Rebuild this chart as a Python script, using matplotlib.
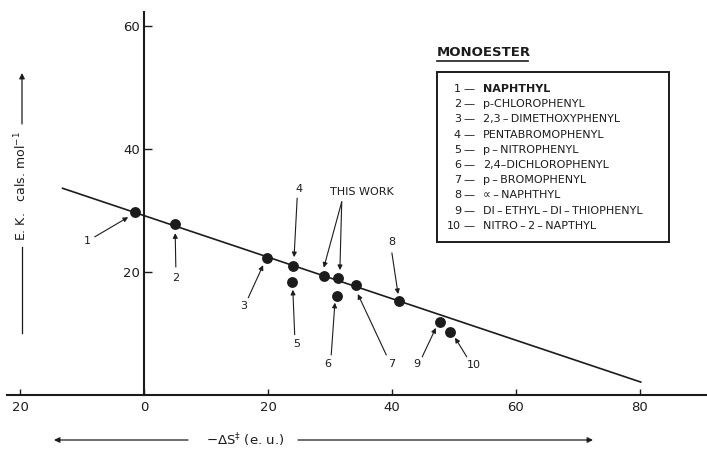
import matplotlib
matplotlib.use("Agg")
import matplotlib.pyplot as plt
from matplotlib.patches import Rectangle

# ---- data ----
labels = ["1", "2", "3", "4", "5", "TW", "TW", "6", "7", "8", "9", "10"]
neg_dS = [-1.5, 5.0, 19.9, 24.1, 23.9, 29.0, 31.3, 31.1, 34.2, 41.1, 47.8, 49.4]
ek = [29.8, 27.8, 22.2, 20.9, 18.3, 19.3, 19.0, 16.1, 17.8, 15.3, 11.9, 10.2]
fit_x = [-13.2, 80.2]
fit_y = [33.6, 2.1]
x_ticks = [-20, 0, 20, 40, 60, 80]
x_tick_labels = ["20", "0", "20", "40", "60", "80"]
y_ticks = [20, 40, 60]
y_tick_labels = ["20", "40", "60"]
legend_title = "MONOESTER"
legend_names = ["NAPHTHYL", "p-CHLOROPHENYL", "2,3\u2009\u2013\u2009DIMETHOXYPHENYL",
                "PENTABROMOPHENYL", "p\u2009\u2013\u2009NITROPHENYL", "2,4\u2013DICHLOROPHENYL",
                "p\u2009\u2013\u2009BROMOPHENYL", "\u221d\u2009\u2013\u2009NAPHTHYL",
                "DI\u2009\u2013\u2009ETHYL\u2009\u2013\u2009DI\u2009\u2013\u2009THIOPHENYL",
                "NITRO\u2009\u2013\u20092\u2009\u2013\u2009NAPTHYL"]

INK = "#1c1c1c"
plt.rcParams['font.family'] = ['DejaVu Sans']

W, H = 707, 449
fig = plt.figure(figsize=(W / 100, H / 100), dpi=100)
ax = fig.add_axes([0, 0, 1, 1])
ax.set_xlim(-23.3, 90.9)
ax.set_ylim(-8.78, 64.2)
ax.patch.set_alpha(0)

for s in ["top", "right"]:
    ax.spines[s].set_visible(False)
ax.spines["left"].set_position(("data", 0))
ax.spines["bottom"].set_position(("data", 0))
ax.spines["left"].set_bounds(0, 62.3)
ax.spines["bottom"].set_bounds(-22.2, 90.9)
for s in ["left", "bottom"]:
    ax.spines[s].set_linewidth(1.5)
    ax.spines[s].set_color(INK)

ax.set_xticks(x_ticks)
ax.set_xticklabels(x_tick_labels)
ax.set_yticks(y_ticks)
ax.set_yticklabels(y_tick_labels)
ax.tick_params(axis="x", direction="in", length=4, width=1, colors=INK, labelsize=9.5, pad=4)
ax.tick_params(axis="y", direction="in", length=6, width=1, colors=INK, labelsize=9.5, pad=3)

# regression line and points
ax.plot(fit_x, fit_y, color=INK, lw=1.2, zorder=2)
ax.plot(neg_dS, ek, "o", color=INK, ms=6.8, zorder=3)

# annotations: (label, text pos, arrow tail, arrow head) in data coords
ann = [
    ("1", (-9.2, 25.0), (-8.0, 25.7), (-2.6, 28.9)),
    ("2", (5.1, 19.0), (5.1, 20.8), (5.0, 26.3)),
    ("3", (16.0, 14.4), (16.8, 15.8), (19.2, 21.1)),
    ("4", (25.0, 33.4), (24.7, 32.0), (24.2, 22.4)),
    ("5", (24.7, 8.3), (24.3, 9.8), (24.0, 17.1)),
    ("6", (29.7, 5.0), (30.2, 6.5), (30.8, 15.0)),
    ("7", (39.9, 5.0), (39.1, 6.5), (34.5, 16.4)),
    ("8", (40.0, 24.8), (40.0, 23.1), (41.0, 16.4)),
    ("9", (44.0, 5.0), (44.9, 6.2), (47.1, 10.9)),
    ("10", (53.3, 4.8), (52.1, 6.2), (50.2, 9.3)),
]
aprops = dict(arrowstyle="-|>", lw=0.8, color=INK, mutation_scale=7,
              shrinkA=0, shrinkB=0)
for lab, tp, tail, head in ann:
    ax.text(tp[0], tp[1], lab, fontsize=8, color=INK, ha="center", va="center")
    ax.annotate("", xy=head, xytext=tail, arrowprops=aprops)

ax.text(35.2, 33.0, "THIS WORK", fontsize=8, color=INK, ha="center", va="center")
for head in [(29.0, 20.7), (31.6, 20.3)]:
    ax.annotate("", xy=head, xytext=(31.9, 31.4), arrowprops=aprops)

# ---- helpers in image pixel coords (origin top-left) ----
def fp(x, y):
    return (x / W, (H - y) / H)

# legend box
x0, y0 = fp(437, 242)
w, h = (669 - 437) / W, (242 - 72) / H
fig.patches.append(Rectangle((x0, y0), w, h, transform=fig.transFigure,
                             fill=False, lw=1.4, ec=INK))
fig.text(*fp(437, 53), legend_title, fontsize=9.5, fontweight="bold",
         color=INK, ha="left", va="center")
fig.add_artist(plt.Line2D([437 / W, 528 / W], [(H - 61) / H] * 2,
                          transform=fig.transFigure, color=INK, lw=1.2))
for i, name in enumerate(legend_names):
    yy = 89 + 15.2 * i
    fig.text(*fp(461, yy), f"{i + 1}", fontsize=8, color=INK, ha="right", va="center")
    fig.text(*fp(463, yy), "\u2014", fontsize=8, color=INK, ha="left", va="center")
    fig.text(*fp(483, yy), name, fontsize=8, color=INK, ha="left", va="center",
             fontweight="bold" if i == 0 else "normal")

# y label with arrows
fig.text(*fp(21, 186), "E. K.   cals. mol$^{-1}$", rotation=90, fontsize=9,
         color=INK, ha="center", va="center")
fig.add_artist(plt.Line2D([22 / W] * 2, [(H - 333) / H, (H - 247) / H],
                          transform=fig.transFigure, color=INK, lw=0.9))
ax.annotate("", xy=fp(22, 73), xytext=fp(22, 124), xycoords="figure fraction",
            textcoords="figure fraction",
            arrowprops=dict(arrowstyle="-|>", lw=0.9, color=INK, mutation_scale=8,
                            shrinkA=0, shrinkB=0))

# x label with arrows
fig.text(*fp(245, 440), "\u2212\u0394S$^{\u2021}$ (e. u.)", fontsize=9.5,
         color=INK, ha="center", va="center")
ax.annotate("", xy=fp(54, 440), xytext=fp(188, 440), xycoords="figure fraction",
            textcoords="figure fraction",
            arrowprops=dict(arrowstyle="-|>", lw=0.9, color=INK, mutation_scale=8,
                            shrinkA=0, shrinkB=0))
ax.annotate("", xy=fp(593, 440), xytext=fp(298, 440), xycoords="figure fraction",
            textcoords="figure fraction",
            arrowprops=dict(arrowstyle="-|>", lw=0.9, color=INK, mutation_scale=8,
                            shrinkA=0, shrinkB=0))

fig.savefig("out.png", dpi=100)
